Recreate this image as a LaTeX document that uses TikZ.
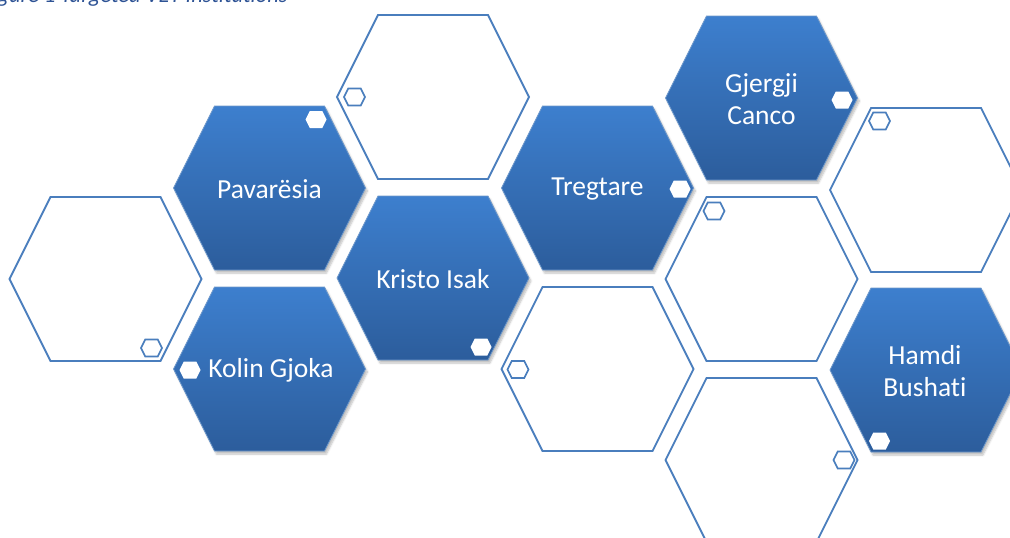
\documentclass[tikz,border=0pt]{standalone}
\usepackage{fontspec}
\setmainfont[Ligatures=NoCommon]{Carlito}
\usetikzlibrary{shadows.blur}
\definecolor{hexTop}{HTML}{3D7FCE}
\definecolor{hexBot}{HTML}{2C5D9C}
\definecolor{hexEdge}{HTML}{4A7EBD}
\definecolor{capBlue}{HTML}{2E5395}
\tikzset{
  solidhex/.style={top color=hexTop, bottom color=hexBot, draw=hexEdge!80!white, line width=0.8pt,
    blur shadow={shadow xshift=2pt, shadow yshift=-3pt, shadow blur steps=6, shadow opacity=25}},
  openhex/.style={draw=hexEdge, line width=1.8pt, fill=white},
  dotwhite/.style={fill=white},
  dotopen/.style={draw=hexEdge, line width=1.6pt},
  hextext/.style={text=white, align=center, font=\fontsize{27.5}{32}\selectfont},
}
% style, cx, cy, half width, half height (inset = half height / 2)
\newcommand{\hexat}[5]{\path[#1] (#2-#4,#3) -- (#2-#4+#5/2,#3-#5) -- (#2+#4-#5/2,#3-#5) -- (#2+#4,#3) -- (#2+#4-#5/2,#3+#5) -- (#2-#4+#5/2,#3+#5) -- cycle;}
\newcommand{\bighex}[3]{\hexat{#1}{#2}{#3}{96}{82}}
\newcommand{\smallhex}[3]{\hexat{#1}{#2}{#3}{10.5}{8.5}}
\begin{document}
\begin{tikzpicture}[x=1pt,y=-1pt]
\useasboundingbox (0,0) rectangle (1010,538);
\clip (0,0) rectangle (1010,538);
% outline hexagons
\bighex{openhex}{105.5}{279}
\bighex{openhex}{433}{97}
\bighex{openhex}{597.5}{369}
\bighex{openhex}{926}{190}
\bighex{openhex}{761.5}{279}
\bighex{openhex}{761.5}{460}
% filled hexagons
\bighex{solidhex}{269.5}{188}
\bighex{solidhex}{269.5}{369}
\bighex{solidhex}{433}{278}
\bighex{solidhex}{597.5}{188}
\bighex{solidhex}{761.5}{98}
\bighex{solidhex}{926}{370}
% labels
\node[hextext] (pav) at (269.5,189) {Pavarësia};
\node[hextext] (kol) at (271,370) {Kolin Gjoka};
\node[hextext] (kri) at (433,279) {Kristo Isak};
\node[hextext] (tre) at (597.5,189) {Tregtare};
\node[hextext] (gje) at (761.5,99) {Gjergji\\Canco};
\node[hextext] (ham) at (925,371) {Hamdi\\Bushati};
% small hexagons
\smallhex{dotwhite}{316}{119.5}
\smallhex{dotopen}{354.5}{97}
\smallhex{dotwhite}{680}{189}
\smallhex{dotwhite}{842}{100}
\smallhex{dotopen}{879.5}{121}
\smallhex{dotopen}{151.5}{348}
\smallhex{dotwhite}{190}{370}
\smallhex{dotwhite}{481}{347}
\smallhex{dotopen}{518}{369.5}
\smallhex{dotopen}{714}{211}
\smallhex{dotwhite}{879.5}{441}
\smallhex{dotopen}{844}{460}
% caption (cut off at top, as in the reference)
\node[anchor=base east, inner sep=0pt, text=capBlue, font=\itshape\fontsize{22.5}{27}\selectfont] (cap) at (288,2.7) {Figure 1 Targeted VET Institutions};
\end{tikzpicture}
\end{document}
